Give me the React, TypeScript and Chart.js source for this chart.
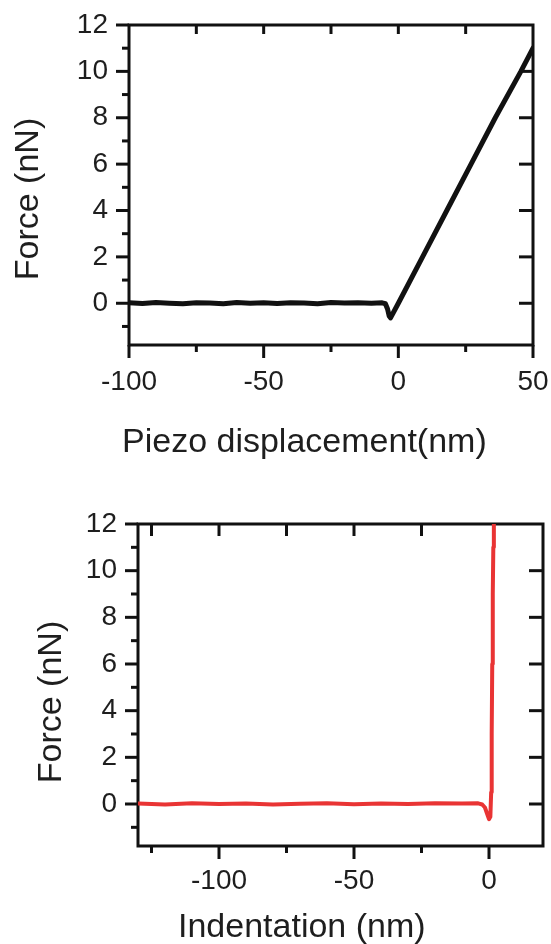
import React, { useEffect, useRef } from "react";
import { Chart, registerables } from "chart.js";

Chart.register(...registerables);

// ---------- data ----------
// Top panel: force vs piezo displacement
const TOP_X = [-100, -95, -90, -85, -80, -75, -70, -65, -60, -55, -50, -45, -40, -35, -30, -25, -20, -15, -10, -6, -4.8, -4.0, -3.4, -2.9, 0, 9, 18, 27, 36, 45.5, 50];
const TOP_Y = [0.02, -0.01, 0.03, 0, -0.02, 0.02, 0.01, -0.02, 0.03, 0, 0.02, -0.01, 0.02, 0.01, -0.02, 0.03, 0.01, 0.02, 0, 0.02, -0.02, -0.25, -0.55, -0.63, 0.0, 2, 4, 6, 8, 10, 11];

// Bottom panel: force vs indentation
const BOT_X = [-130, -120, -110, -100, -90, -80, -70, -60, -50, -40, -30, -20, -10, -4, -2.5, -1.5, -0.6, 0, 0.5, 0.8, 1.0, 1.2, 1.4, 1.6, 1.8];
const BOT_Y = [0.02, -0.02, 0.03, 0, 0.02, -0.02, 0.01, 0.03, -0.01, 0.02, 0, 0.03, 0.02, 0.03, -0.02, -0.15, -0.45, -0.65, -0.55, 0.5, 3, 6, 9, 11, 12.3];

// tick values
const Y_LABELS = [0, 2, 4, 6, 8, 10, 12];
const Y_MINOR = [-1, 1, 3, 5, 7, 9, 11];
const Y_RIGHT = [0, 2, 4, 6, 8, 10];

const TOP_X_LABELS = [-100, -50, 0, 50];
const TOP_X_MINOR = [-75, -25, 25];
const TOP_X_TOP = [-75, -50, -25, 0, 25];

const BOT_X_LABELS = [-100, -50, 0];
const BOT_X_MINOR = [-125, -75, -25];
const BOT_X_TOP = [-125, -100, -75, -50, -25];

// text
const TOP_X_TITLE = "Piezo displacement(nm)";
const BOT_X_TITLE = "Indentation (nm)";
const Y_TITLE = "Force (nN)";

const FONT = "'Liberation Sans', Arial, Helvetica, sans-serif";
const INK = "#111111";
const TEXT = "#1e1e1e";

const framePlugin = {
  id: "frame",
  beforeDatasetsDraw(chart: any, _args: any, opts: any) {
    const { ctx, chartArea: a } = chart;
    const x = chart.scales.x;
    const y = chart.scales.y;
    ctx.save();
    ctx.strokeStyle = INK;
    ctx.lineWidth = 3;
    ctx.lineCap = "butt";
    ctx.strokeRect(a.left, a.top, a.right - a.left, a.bottom - a.top);
    const seg = (x1: number, y1: number, x2: number, y2: number) => {
      ctx.beginPath();
      ctx.moveTo(x1, y1);
      ctx.lineTo(x2, y2);
      ctx.stroke();
    };
    (opts.leftMajor || []).forEach((v: number) => {
      const p = y.getPixelForValue(v);
      seg(a.left - 13, p, a.left, p);
    });
    (opts.leftMinor || []).forEach((v: number) => {
      const p = y.getPixelForValue(v);
      seg(a.left - 7, p, a.left, p);
    });
    (opts.right || []).forEach((v: number) => {
      const p = y.getPixelForValue(v);
      seg(a.right - 14, p, a.right, p);
    });
    (opts.bottomMajor || []).forEach((v: number) => {
      const p = x.getPixelForValue(v);
      seg(p, a.bottom, p, a.bottom + 13);
    });
    (opts.bottomMinor || []).forEach((v: number) => {
      const p = x.getPixelForValue(v);
      seg(p, a.bottom, p, a.bottom + 7);
    });
    (opts.top || []).forEach((v: number) => {
      const p = x.getPixelForValue(v);
      seg(p, a.top, p, a.top + opts.topLen);
    });
    ctx.restore();
  },
  afterDraw(chart: any, _args: any, opts: any) {
    const { ctx, chartArea: a } = chart;
    ctx.save();
    ctx.fillStyle = TEXT;
    ctx.font = `34px ${FONT}`;
    // x-axis title
    ctx.textAlign = "left";
    ctx.textBaseline = "alphabetic";
    ctx.fillText(opts.xTitle, a.left + opts.xTitleDx, a.bottom + opts.xTitleDy);
    // y-axis title
    ctx.translate(opts.yTitleX, (a.top + a.bottom) / 2 + opts.yTitleDy);
    ctx.rotate(-Math.PI / 2);
    ctx.textAlign = "center";
    ctx.fillText(opts.yTitle, 0, 0);
    ctx.restore();
  },
};

function makeConfig(p: {
  xs: number[];
  ys: number[];
  color: string;
  width: number;
  xMin: number;
  xMax: number;
  xLabels: number[];
  padTop: number;
  padRight: number;
  axisLeft: number;
  xAxisHeight: number;
  xPad: number;
  frame: any;
}) {
  return {
    type: "scatter",
    data: {
      datasets: [
        {
          data: p.xs.map((x, i) => ({ x, y: p.ys[i] })),
          showLine: true,
          borderColor: p.color,
          borderWidth: p.width,
          pointRadius: 0,
          tension: 0,
          borderJoinStyle: "round",
          borderCapStyle: "round",
        },
      ],
    },
    options: {
      responsive: false,
      animation: false,
      events: [],
      layout: { padding: { left: 0, right: p.padRight, top: p.padTop, bottom: 0 } },
      plugins: {
        legend: { display: false },
        tooltip: { enabled: false },
        frame: p.frame,
      },
      scales: {
        x: {
          type: "linear",
          min: p.xMin,
          max: p.xMax,
          grid: { display: false, drawTicks: false },
          border: { display: false },
          ticks: { padding: p.xPad, color: TEXT, font: { family: FONT, size: 28 }, autoSkip: false, maxRotation: 0 },
          afterBuildTicks: (s: any) => {
            s.ticks = p.xLabels.map((v) => ({ value: v }));
          },
          afterFit: (s: any) => {
            s.height = p.xAxisHeight;
            s.paddingLeft = 0;
            s.paddingRight = 0;
          },
        },
        y: {
          type: "linear",
          min: -1.8,
          max: 12,
          grid: { display: false, drawTicks: false },
          border: { display: false },
          ticks: { padding: 21, color: TEXT, font: { family: FONT, size: 28 }, autoSkip: false },
          afterBuildTicks: (s: any) => {
            s.ticks = Y_LABELS.map((v) => ({ value: v }));
          },
          afterFit: (s: any) => {
            s.width = p.axisLeft;
            s.paddingTop = 0;
            s.paddingBottom = 0;
          },
        },
      },
    },
    plugins: [framePlugin],
  } as any;
}

export default function App() {
  const topRef = useRef<HTMLCanvasElement | null>(null);
  const botRef = useRef<HTMLCanvasElement | null>(null);

  useEffect(() => {
    const top = new Chart(
      topRef.current as HTMLCanvasElement,
      makeConfig({
        xs: TOP_X,
        ys: TOP_Y,
        color: INK,
        width: 5,
        xMin: -100,
        xMax: 50,
        xLabels: TOP_X_LABELS,
        padTop: 25,
        padRight: 18,
        axisLeft: 129,
        xAxisHeight: 125,
        xPad: 20,
        frame: {
          leftMajor: Y_LABELS,
          leftMinor: Y_MINOR,
          right: Y_RIGHT,
          bottomMajor: TOP_X_LABELS,
          bottomMinor: TOP_X_MINOR,
          top: TOP_X_TOP,
          topLen: 9,
          xTitle: TOP_X_TITLE,
          xTitleDx: -7,
          xTitleDy: 107,
          yTitle: Y_TITLE,
          yTitleX: 38,
          yTitleDy: 14,
        },
      })
    );
    const bot = new Chart(
      botRef.current as HTMLCanvasElement,
      makeConfig({
        xs: BOT_X,
        ys: BOT_Y,
        color: "#e93434",
        width: 4,
        xMin: -130,
        xMax: 20,
        xLabels: BOT_X_LABELS,
        padTop: 54,
        padRight: 8,
        axisLeft: 138,
        xAxisHeight: 98,
        xPad: 18,
        frame: {
          leftMajor: Y_LABELS,
          leftMinor: Y_MINOR,
          right: Y_RIGHT,
          bottomMajor: BOT_X_LABELS,
          bottomMinor: BOT_X_MINOR,
          top: BOT_X_TOP,
          topLen: 12,
          xTitle: BOT_X_TITLE,
          xTitleDx: 40,
          xTitleDy: 91,
          yTitle: Y_TITLE,
          yTitleX: 61,
          yTitleDy: 17,
        },
      })
    );
    return () => {
      top.destroy();
      bot.destroy();
    };
  }, []);

  return (
    <div style={{ position: "absolute", left: 0, top: 0, width: 551, height: 944, background: "#ffffff" }}>
      <canvas ref={topRef} width={551} height={470} style={{ display: "block", width: 551, height: 470 }} />
      <canvas ref={botRef} width={551} height={474} style={{ display: "block", width: 551, height: 474 }} />
    </div>
  );
}
